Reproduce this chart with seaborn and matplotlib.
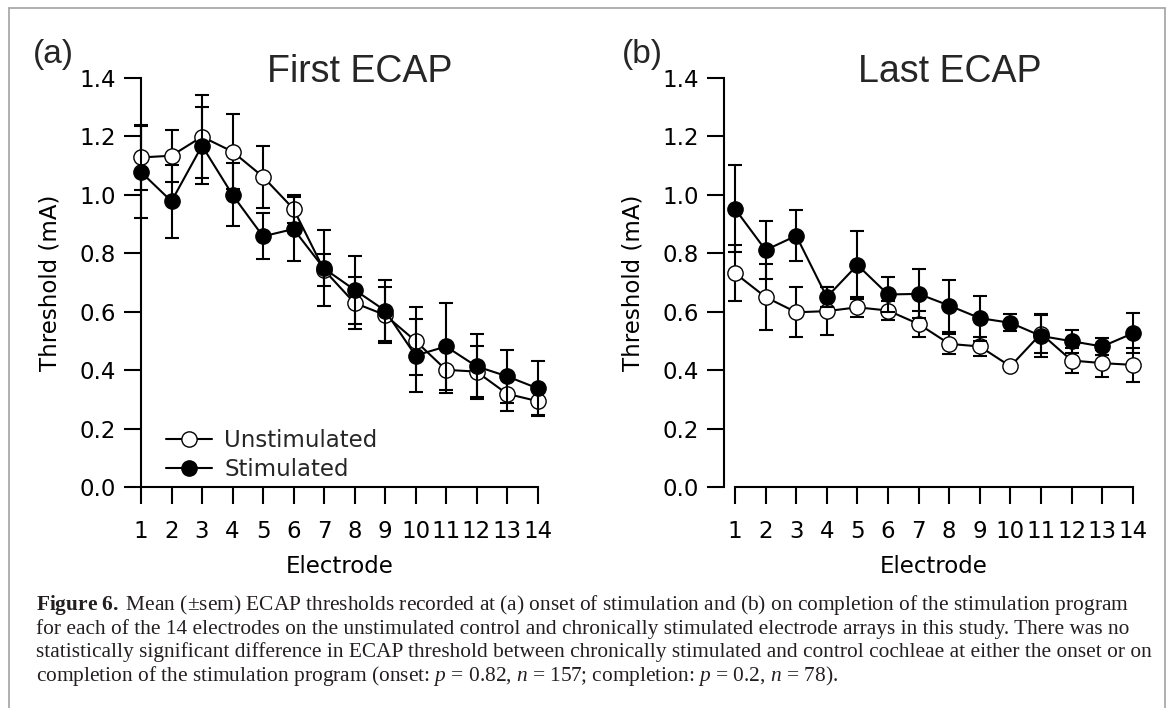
import numpy as np
import pandas as pd
import matplotlib
matplotlib.use("Agg")
import matplotlib.pyplot as plt
import seaborn as sns
from matplotlib.lines import Line2D

# ---------------- data ----------------
electrodes = list(range(1, 15))
tick_labels = [str(e) for e in electrodes]

first_unstim_mean = [1.128, 1.134, 1.199, 1.148, 1.062, 0.952, 0.743, 0.630, 0.589, 0.500, 0.401, 0.395, 0.319, 0.294]
first_unstim_sem = [0.110, 0.089, 0.143, 0.128, 0.106, 0.047, 0.056, 0.090, 0.095, 0.117, 0.080, 0.087, 0.060, 0.052]
first_stim_mean = [1.078, 0.978, 1.168, 1.000, 0.858, 0.883, 0.748, 0.675, 0.604, 0.450, 0.481, 0.413, 0.379, 0.338]
first_stim_sem = [0.156, 0.125, 0.132, 0.108, 0.079, 0.110, 0.130, 0.117, 0.104, 0.125, 0.148, 0.111, 0.090, 0.093]

last_unstim_mean = [0.732, 0.650, 0.598, 0.602, 0.615, 0.604, 0.558, 0.490, 0.481, 0.413, 0.525, 0.433, 0.424, 0.418]
last_unstim_sem = [0.096, 0.114, 0.086, 0.083, 0.034, 0.034, 0.043, 0.035, 0.033, 0.008, 0.068, 0.043, 0.046, 0.057]
last_stim_mean = [0.952, 0.811, 0.860, 0.650, 0.760, 0.659, 0.661, 0.621, 0.578, 0.562, 0.517, 0.499, 0.481, 0.526]
last_stim_sem = [0.149, 0.098, 0.088, 0.035, 0.117, 0.060, 0.084, 0.089, 0.077, 0.029, 0.072, 0.040, 0.030, 0.069]

y_ticks = [0.0, 0.2, 0.4, 0.6, 0.8, 1.0, 1.2, 1.4]

panel_letters = ["(a)", "(b)"]
panel_titles = ["First ECAP", "Last ECAP"]
series_labels = ["Unstimulated", "Stimulated"]

caption_lines = [
    r"$\mathbf{Figure\ 6.\ }$Mean ($\pm$sem) ECAP thresholds recorded at (a) onset of stimulation and (b) on completion of the stimulation program",
    "for each of the 14 electrodes on the unstimulated control and chronically stimulated electrode arrays in this study. There was no",
    "statistically significant difference in ECAP threshold between chronically stimulated and control cochleae at either the onset or on",
    r"completion of the stimulation program (onset: $p$ = 0.82, $n$ = 157; completion: $p$ = 0.2, $n$ = 78).",
]

# ---------------- style ----------------
sns.set_theme(style="ticks")
plt.rcParams["font.family"] = ["DejaVu Sans"]
plt.rcParams["mathtext.fontset"] = "custom"
plt.rcParams["mathtext.rm"] = "Liberation Serif"
plt.rcParams["mathtext.it"] = "Liberation Serif:italic"
plt.rcParams["mathtext.bf"] = "Liberation Serif:bold"

W, H = 1171, 708
fig = plt.figure(figsize=(W / 100, H / 100), dpi=100)
fig.patch.set_facecolor("white")

def px_axes(left, right, top, bottom):
    return fig.add_axes([left / W, 1 - bottom / H, (right - left) / W, (bottom - top) / H])

ax_a = px_axes(141, 141 + 30.5 * 13.5, 78, 487)
ax_b = px_axes(724, 724 + 30.6 * 13.86, 78, 487)
xlims = [(1.0, 14.5), (0.64, 14.5)]

panels = [
    (ax_a, first_unstim_mean, first_unstim_sem, first_stim_mean, first_stim_sem),
    (ax_b, last_unstim_mean, last_unstim_sem, last_stim_mean, last_stim_sem),
]

FS = 16.5

for i, (ax, um, us, sm, ss) in enumerate(panels):
    df_u = pd.DataFrame({"Electrode": electrodes, "Threshold": um, "sem": us})
    df_s = pd.DataFrame({"Electrode": electrodes, "Threshold": sm, "sem": ss})

    ax.errorbar(df_u["Electrode"], df_u["Threshold"], yerr=df_u["sem"], fmt="none",
                ecolor="black", elinewidth=1.5, capsize=4.8, capthick=1.5, zorder=2, clip_on=False)
    sns.lineplot(data=df_u, x="Electrode", y="Threshold", ax=ax, color="black",
                 marker="o", markersize=11, markerfacecolor="white", markeredgecolor="black",
                 markeredgewidth=1.0, linewidth=1.5, errorbar=None, zorder=3, clip_on=False,
                 label=series_labels[0], legend=False)
    ax.errorbar(df_s["Electrode"], df_s["Threshold"], yerr=df_s["sem"], fmt="none",
                ecolor="black", elinewidth=1.5, capsize=4.8, capthick=1.5, zorder=4, clip_on=False)
    sns.lineplot(data=df_s, x="Electrode", y="Threshold", ax=ax, color="black",
                 marker="o", markersize=11, markerfacecolor="black", markeredgecolor="black",
                 markeredgewidth=1.0, linewidth=1.5, errorbar=None, zorder=5, clip_on=False,
                 label=series_labels[1], legend=False)

    ax.set_xlim(*xlims[i])
    ax.set_ylim(0, 1.4)
    ax.set_xticks(electrodes)
    ax.set_xticklabels(tick_labels)
    ax.set_yticks(y_ticks)
    ax.set_yticklabels([f"{v:.1f}" for v in y_ticks])
    sns.despine(ax=ax)
    ax.spines["left"].set_bounds(0, 1.4)
    ax.spines["bottom"].set_bounds(1, 14)
    for sp in ("left", "bottom"):
        ax.spines[sp].set_linewidth(1.5)
        ax.spines[sp].set_color("black")
    ax.tick_params(axis="both", direction="out", length=12, width=1.5, colors="black",
                   labelsize=FS)
    ax.tick_params(axis="x", pad=12)
    ax.tick_params(axis="y", pad=6)
    ax.set_facecolor("white")
    ax.grid(False)

    ax.set_xlabel("Electrode", fontsize=FS, color="black")
    ax.set_ylabel("Threshold (mA)", fontsize=FS, color="black")
    wpx = ax.get_position().width * W
    x0 = xlims[i][0]
    spine_mid_px = ((1 + 14) / 2 - x0) / (xlims[i][1] - x0) * wpx
    ax.xaxis.set_label_coords(spine_mid_px / wpx, -68 / 409)
    ax.yaxis.set_label_coords(-79 / wpx, 0.5)

ax_a.legend(loc="lower left", bbox_to_anchor=(0.06, 0.014), frameon=False, fontsize=FS,
            handlelength=2.0, handletextpad=0.55, labelspacing=0.28, borderpad=0, borderaxespad=0)

# panel letters and titles
for x_px, t in zip([33, 622], panel_letters):
    fig.text(x_px / W, 1 - 55 / H, t, ha="left", va="center", fontsize=24, family="Liberation Sans")
for x_px, t in zip([360, 950], panel_titles):
    fig.text(x_px / W, 1 - 72 / H, t, ha="center", va="center", fontsize=27, family="Liberation Sans")

# caption
for k, line in enumerate(caption_lines):
    fig.text(36 / W, 1 - (610 + 23.7 * k) / H, line, ha="left", va="baseline",
             fontsize=15.4, family="Liberation Serif", color="#231f20")

# frame around figure + caption
frame_kw = dict(color="#a9a9a9", linewidth=1.3, transform=fig.transFigure)
fig.add_artist(Line2D([9 / W, 1165 / W], [1 - 8 / H, 1 - 8 / H], **frame_kw))
fig.add_artist(Line2D([9 / W, 9 / W], [1 - 8 / H, 0], **frame_kw))
fig.add_artist(Line2D([1165 / W, 1165 / W], [1 - 8 / H, 0], **frame_kw))

fig.savefig("out.png", dpi=100)
